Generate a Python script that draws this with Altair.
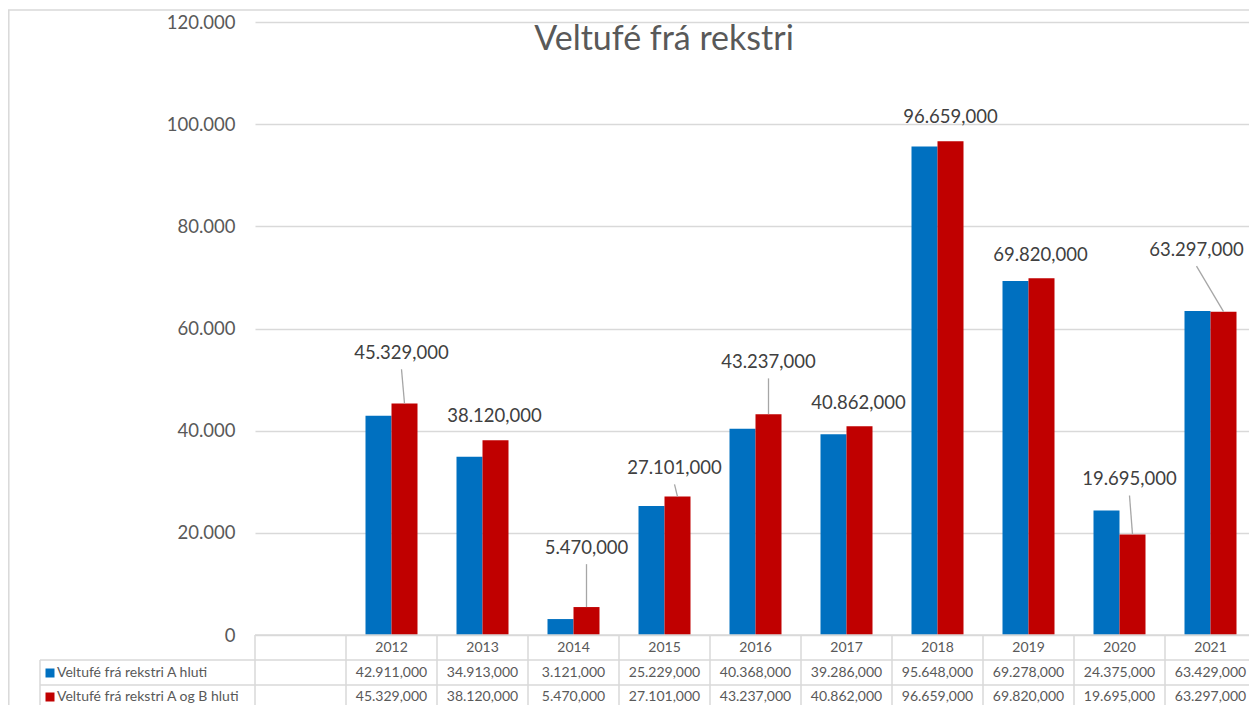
import altair as alt
import pandas as pd

# ---------------- data ----------------
years = ["2012", "2013", "2014", "2015", "2016", "2017", "2018", "2019", "2020", "2021"]
series_names = ["Veltufé frá rekstri A hluti", "Veltufé frá rekstri A og B hluti"]
series_a = [42911, 34913, 3121, 25229, 40368, 39286, 95648, 69278, 24375, 63429]
series_b = [45329, 38120, 5470, 27101, 43237, 40862, 96659, 69820, 19695, 63297]
y_ticks = [0, 20000, 40000, 60000, 80000, 100000, 120000]
title_text = "Veltufé frá rekstri"
colors = ["#0070C0", "#C00000"]

# manual placement of the data labels of the second series (as in the original)
label_lift = [9900, 4800, 11600, 5600, 10200, 4500, 4750, 4600, 10800, 12100]
label_shift_px = [-3, -1, 0, -3, 0, -1, 0, -1, -3, -27]

# ---------------- layout ----------------
PAD_LEFT, PAD_TOP, PAD_BOTTOM = 247, 14, 70
W, H = 994, 613
STEP = 91.0                 # width of one category column in px
XMAX = W / STEP             # the original is cropped inside the last column
BAR = 26 / STEP             # bar width in category units
LEG_X = -215                # left edge of the table's legend column (px from plot)
FONT = "Lato"
GRID = "#d9d9d9"
TXT = "#595959"


def isl(v):
    s = f"{v:,.3f}"
    return s.replace(",", "#").replace(".", ",").replace("#", ".")


xs = alt.Scale(domain=[0, XMAX], nice=False, zero=False)
ys = alt.Scale(domain=[0, 120000], nice=False)

# bars
rows = []
for i, yr in enumerate(years):
    c = i + 1 + 0.5
    rows.append({"year": yr, "series": series_names[0], "value": series_a[i], "base": 0,
                 "x0": c - BAR, "x1": c})
    rows.append({"year": yr, "series": series_names[1], "value": series_b[i], "base": 0,
                 "x0": c, "x1": c + BAR})
bars_df = pd.DataFrame(rows)

bars = alt.Chart(bars_df).mark_rect().encode(
    x=alt.X("x0:Q", scale=xs, axis=None),
    x2="x1:Q",
    y=alt.Y("value:Q", scale=ys, axis=alt.Axis(
        values=y_ticks, labelExpr="replace(datum.label, ',', '.')", grid=True, gridColor=GRID,
        gridWidth=1.3, domain=False, ticks=False, labelPadding=20, labelFontSize=18.5,
        labelFont=FONT, labelColor=TXT, title=None)),
    y2="base:Q",
    color=alt.Color("series:N", scale=alt.Scale(domain=series_names, range=colors), legend=None),
)

# data labels for second series
lab_rows, lead_rows = [], []
for i, yr in enumerate(years):
    bx = i + 1 + 0.5 + BAR / 2
    lx = bx + label_shift_px[i] / STEP
    ly = series_b[i] + label_lift[i]
    lab_rows.append({"year": yr, "lx": lx, "ly": ly, "txt": isl(series_b[i])})
    if label_lift[i] > 5000:
        lead_rows.append({"year": yr, "x_a": lx, "y_a": ly - 3200, "x_b": bx, "y_b": series_b[i]})
lab_df = pd.DataFrame(lab_rows)
lead_df = pd.DataFrame(lead_rows)

labels = alt.Chart(lab_df).mark_text(font=FONT, fontSize=18.5, color="#404040", baseline="middle").encode(
    x=alt.X("lx:Q", scale=xs), y=alt.Y("ly:Q", scale=ys), text="txt:N")

leaders = alt.Chart(lead_df).mark_rule(color="#a6a6a6", strokeWidth=1.3).encode(
    x=alt.X("x_a:Q", scale=xs), x2="x_b:Q", y=alt.Y("y_a:Q", scale=ys), y2="y_b:Q")

# ---------------- data table below the plot ----------------
tbl_rows = []
for i, yr in enumerate(years):
    c = i + 1 + 0.5
    tbl_rows.append({"cx": c, "year": yr, "a": isl(series_a[i]), "b": isl(series_b[i])})
tbl_df = pd.DataFrame(tbl_rows)

R1, R2 = 25, 50             # row borders below the plot (px)
tbase = alt.Chart(tbl_df).mark_text(font=FONT, fontSize=14, color=TXT, baseline="middle")
t_years = tbase.encode(x=alt.X("cx:Q", scale=xs), y=alt.value(H + 13), text="year:N")
t_a = tbase.encode(x=alt.X("cx:Q", scale=xs), y=alt.value(H + 38), text="a:N")
t_b = tbase.encode(x=alt.X("cx:Q", scale=xs), y=alt.value(H + 62), text="b:N")

bounds_df = pd.DataFrame({"b": list(range(0, len(years) + 1))})
vlines = alt.Chart(bounds_df).mark_rule(color=GRID, strokeWidth=1.5).encode(
    x=alt.X("b:Q", scale=xs), y=alt.value(H), y2=alt.value(H + PAD_BOTTOM))

one = pd.DataFrame({"k": [0]})
hline0 = alt.Chart(one).mark_rule(color=GRID, strokeWidth=1.5).encode(
    x=alt.value(0), x2=alt.value(W), y=alt.value(H))
hline1 = alt.Chart(one).mark_rule(color=GRID, strokeWidth=1.5).encode(
    x=alt.value(LEG_X), x2=alt.value(W), y=alt.value(H + R1))
hline2 = alt.Chart(one).mark_rule(color=GRID, strokeWidth=1.5).encode(
    x=alt.value(LEG_X), x2=alt.value(W), y=alt.value(H + R2))
legend_border = alt.Chart(one).mark_rule(color=GRID, strokeWidth=1.5).encode(
    x=alt.value(LEG_X), y=alt.value(H + R1), y2=alt.value(H + PAD_BOTTOM))

leg_df = pd.DataFrame({"series": series_names})
leg_sq_a = alt.Chart(leg_df.iloc[[0]]).mark_square(size=81, opacity=1, color=colors[0]).encode(
    x=alt.value(LEG_X + 10), y=alt.value(H + 38))
leg_sq_b = alt.Chart(leg_df.iloc[[1]]).mark_square(size=81, opacity=1, color=colors[1]).encode(
    x=alt.value(LEG_X + 10), y=alt.value(H + 62))
leg_t_a = alt.Chart(leg_df.iloc[[0]]).mark_text(font=FONT, fontSize=14, color=TXT, align="left",
                                                baseline="middle").encode(
    x=alt.value(LEG_X + 17), y=alt.value(H + 38), text="series:N")
leg_t_b = alt.Chart(leg_df.iloc[[1]]).mark_text(font=FONT, fontSize=14, color=TXT, align="left",
                                                baseline="middle").encode(
    x=alt.value(LEG_X + 17), y=alt.value(H + 62), text="series:N")

# outer chart frame (top and left edges visible in the original crop)
frame_top = alt.Chart(one).mark_rule(color=GRID, strokeWidth=1.5).encode(
    x=alt.value(-PAD_LEFT), x2=alt.value(W), y=alt.value(-12))
frame_left = alt.Chart(one).mark_rule(color=GRID, strokeWidth=1.5).encode(
    x=alt.value(-PAD_LEFT + 0.8), y=alt.value(-12), y2=alt.value(H + PAD_BOTTOM))

title = alt.Chart(one).mark_text(font=FONT, fontSize=34, color=TXT, baseline="middle").encode(
    x=alt.value(409), y=alt.value(18), text=alt.value(title_text))

chart = alt.layer(
    frame_top, frame_left, bars, leaders, labels, title,
    vlines, hline0, hline1, hline2, legend_border,
    t_years, t_a, t_b, leg_sq_a, leg_sq_b, leg_t_a, leg_t_b,
).properties(
    width=W, height=H,
    padding={"left": PAD_LEFT, "top": PAD_TOP, "right": 0, "bottom": PAD_BOTTOM},
    autosize=alt.AutoSizeParams(type="none"),
    background="white",
).configure_view(stroke=None)

chart.save("out.html", embed_options={"renderer": "svg", "actions": False})
